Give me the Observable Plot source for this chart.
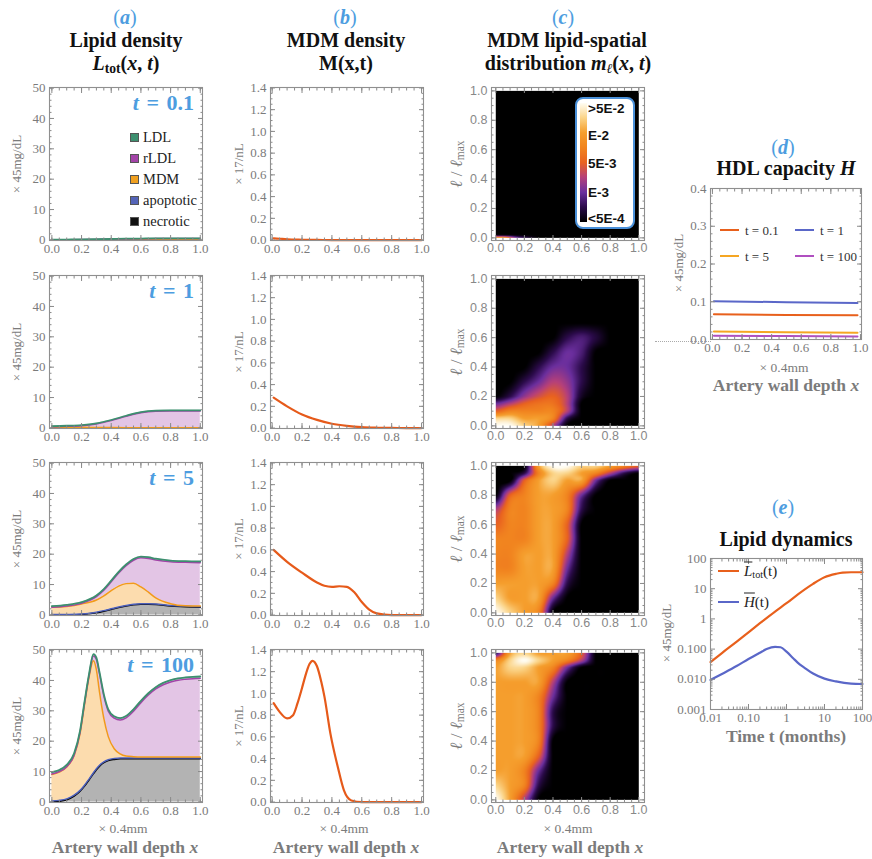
<!DOCTYPE html>
<html><head><meta charset="utf-8">
<script src="https://cdn.jsdelivr.net/npm/d3@7"></script>
<script src="https://cdn.jsdelivr.net/npm/@observablehq/plot@0.6"></script>
<style>
body{margin:0;background:#fff;}
#root{position:relative;width:872px;height:859px;overflow:hidden;font-family:"Liberation Serif",serif;background:#fff;}
.abs{position:absolute;white-space:nowrap;line-height:1;}
sub{font-size:0.68em;vertical-align:-0.25em;line-height:0;}
</style>
</head><body><div id="root"></div>
<script>
// ---------------- DATA ----------------
// (a) Lipid density: upper boundaries of stacked layers (×45 mg/dL)
const a01X = [0,0.1,0.2,0.3,0.4,0.5,0.6,0.7,0.8,0.9,1];
const a01Nec = [0,0,0,0,0,0,0,0,0,0,0];
const a01Apo = [0,0,0,0,0,0,0,0,0,0,0];
const a01Mdm = [0.05,0.04,0.03,0.03,0.03,0.03,0.03,0.03,0.03,0.03,0.03];
const a01Rldl = [0.08,0.08,0.12,0.17,0.25,0.33,0.38,0.42,0.43,0.43,0.43];
const a01Ldl = [0.12,0.12,0.16,0.22,0.3,0.4,0.45,0.5,0.5,0.5,0.5];

const a1X = [0,0.1,0.2,0.3,0.4,0.5,0.6,0.7,0.8,0.9,1];
const a1Nec = [0,0,0,0,0,0,0,0,0,0,0];
const a1Apo = [0.01,0.01,0.01,0.01,0.01,0.01,0.01,0.01,0.01,0.01,0.01];
const a1Mdm = [0.3,0.25,0.2,0.15,0.1,0.08,0.05,0.05,0.05,0.05,0.05];
const a1Rldl = [0.4,0.5,0.7,1.3,2.4,3.8,5.0,5.5,5.6,5.6,5.6];
const a1Ldl = [0.6,0.7,0.9,1.5,2.6,4.0,5.2,5.7,5.8,5.8,5.8];

const a5X = [0,0.1,0.2,0.3,0.35,0.4,0.45,0.5,0.55,0.6,0.65,0.7,0.8,0.9,1];
const a5Nec = [0,0.05,0.15,0.7,1.2,1.8,2.4,2.9,3.3,3.5,3.5,3.4,2.9,2.7,2.5];
const a5Apo = [0.1,0.15,0.3,0.9,1.4,2.0,2.6,3.1,3.5,3.7,3.7,3.6,3.1,2.9,2.7];
const a5Mdm = [2.5,2.8,3.6,4.9,6.3,8.0,9.5,10.3,10.4,9.2,7.5,5.6,3.7,3.0,2.9];
const a5Rldl = [2.5,2.9,3.8,6.0,8.1,10.9,13.8,16.2,18.0,18.8,18.6,18.1,17.5,17.3,17.2];
const a5Ldl = [2.9,3.3,4.2,6.4,8.5,11.3,14.2,16.6,18.4,19.2,19.0,18.5,17.9,17.7,17.6];

const a100X = [0,0.05,0.1,0.15,0.19,0.22,0.25,0.28,0.3,0.32,0.35,0.38,0.42,0.46,0.5,0.55,0.6,0.65,0.7,0.75,0.8,0.85,0.9,0.95,1];
const a100Nec = [0,0.2,0.7,1.9,3.5,5.2,7.2,9.3,10.6,11.7,12.9,13.6,14.0,14.2,14.2,14.2,14.2,14.2,14.2,14.2,14.2,14.2,14.2,14.2,14.2];
const a100Apo = [0.3,0.5,1.0,2.2,3.8,5.5,7.5,9.6,10.9,12.0,13.2,13.9,14.3,14.5,14.5,14.5,14.5,14.5,14.5,14.5,14.5,14.5,14.5,14.5,14.5];
const a100Mdm = [9.0,9.8,11.5,15.3,22.5,32,41,46.5,43.5,36.5,27.5,21.5,17.5,15.8,15.1,14.9,14.8,14.8,14.8,14.8,14.8,14.8,14.8,14.8,14.8];
const a100Rldl = [9.2,10.0,11.6,15.4,22.9,32.4,41.4,48.1,46.9,42.4,34.9,29.9,27.6,27.0,27.7,29.9,32.7,35.2,37.2,38.6,39.5,40.1,40.4,40.6,40.7];
const a100Ldl = [9.8,10.5,12.2,16,23.5,33,42,48.7,47.5,43,35.5,30.5,28.2,27.6,28.3,30.5,33.3,35.8,37.8,39.2,40.1,40.7,41.0,41.2,41.3];

// (b) MDM density M(x,t) (×17/nL)
const b01X = [0.01,0.05,0.1,0.2,0.3,0.4,0.5,0.6,0.7,0.8,0.9,1];
const b01M = [0.016,0.012,0.007,0.003,0.001,0,0,0,0,0,0,0];
const b1X = [0.01,0.1,0.2,0.3,0.4,0.5,0.6,0.7,0.8,0.9,1];
const b1M = [0.28,0.2,0.125,0.075,0.04,0.02,0.008,0.003,0.001,0,0];
const b5X = [0.01,0.1,0.2,0.3,0.35,0.4,0.45,0.5,0.55,0.6,0.65,0.7,0.8,0.9,1];
const b5M = [0.6,0.49,0.39,0.3,0.27,0.26,0.265,0.26,0.21,0.12,0.05,0.015,0,0,0];
const b100X = [0.01,0.05,0.1,0.14,0.17,0.2,0.22,0.25,0.27,0.3,0.33,0.35,0.39,0.44,0.48,0.53,0.6,0.7,0.8,0.9,1];
const b100M = [0.91,0.83,0.77,0.8,0.91,1.05,1.15,1.27,1.30,1.25,1.1,0.97,0.63,0.32,0.11,0.015,0,0,0,0,0];

// (c) MDM lipid-spatial distribution: colour level 0..8 (0:<5E-4, 2:E-3, 4:5E-3, 6:E-2, 8:>5E-2)
const levelColors = ["#000000","#2b0b4a","#6b2f9e","#b5407a","#e9621f","#f1841f","#f59e2d","#fbd488","#fffdf3"];
const levelTicks = ["<5E-4","E-3","5E-3","E-2",">5E-2"];
const heat01X = [0,0.05,0.1,0.15,0.2,0.3,1];
const heat01Y = [0,0.02,1];
const heat01Z = [
  [6,6,4,2,1,0,0],
  [0,0,0,0,0,0,0],
  [0,0,0,0,0,0,0]];
const heatX = [0,0.1,0.2,0.3,0.4,0.5,0.6,0.7,0.8,0.9,1];
const heat1Y = [0,0.05,0.1,0.15,0.2,0.3,0.4,0.5,0.6,0.7,1];
const heat1Z = [
  [8,8,7,6,3,0,0,0,0,0,0],
  [7,7,6,6,5,1,0,0,0,0,0],
  [4,5,5,5,5,3,0,0,0,0,0],
  [2,3,4,4.5,4.5,3,0,0,0,0,0],
  [0,1,2.5,3.5,4,3,0.5,0,0,0,0],
  [0,0,1,2,3,2.5,1,0,0,0,0],
  [0,0,0,1,2,2,1,0,0,0,0],
  [0,0,0,0,1,2,1.5,0,0,0,0],
  [0,0,0,0,0,1,1.5,0.8,0,0,0],
  [0,0,0,0,0,0,0,0,0,0,0],
  [0,0,0,0,0,0,0,0,0,0,0]];
const heat5Y = [0,0.1,0.2,0.3,0.4,0.5,0.6,0.7,0.8,0.9,0.95,1];
const heat5Z = [
  [8,7,6,5,0,0,0,0,0,0,0],
  [7,6,6,6,2,0,0,0,0,0,0],
  [6,6,6,6,5,1,0,0,0,0,0],
  [5,5,6,6,6,2,0,0,0,0,0],
  [5,5,6,6,6,3,0,0,0,0,0],
  [5,5,5,6,6,4,0,0,0,0,0],
  [4,5,5,6,6,4,0,0,0,0,0],
  [3,5,5,6,6,5,1,0,0,0,0],
  [0,4,5,6,6,5,2,0,0,0,0],
  [0,0,4,6,7,6,6,2,0,0,0],
  [0,0,1,5,7,7,6,5,3,1,0],
  [0,0,0,6,8,8,7,7,6,5,4]];
const heat100Y = [0,0.1,0.2,0.3,0.4,0.5,0.6,0.7,0.8,0.9,0.95,1];
const heat100Z = [
  [8,6,3,0,0,0,0,0,0,0,0],
  [7,6,5,1,0,0,0,0,0,0,0],
  [6,6,5,2,0,0,0,0,0,0,0],
  [6,6,6,4,0,0,0,0,0,0,0],
  [6,6,6,5,0,0,0,0,0,0,0],
  [6,6,6,5,1,0,0,0,0,0,0],
  [6,6,6,5,1,0,0,0,0,0,0],
  [6,6,6,5,2,0,0,0,0,0,0],
  [6,6,6,6,3,0,0,0,0,0,0],
  [6,7,7,6,5,2,0,0,0,0,0],
  [5,7,8,7,6,5,3,0,0,0,0],
  [1,6,7,6,6,6,4,0,0,0,0]];

// (d) HDL capacity H (×45 mg/dL)
const dX = [0.01,0.5,0.98];
const dH01 = [0.067,0.065,0.064];
const dH1 = [0.101,0.099,0.097];
const dH5 = [0.021,0.019,0.018];
const dH100 = [0.010,0.009,0.008];
const dLabels = ["t = 0.1","t = 1","t = 5","t = 100"];

// (e) Lipid dynamics
const eLT = [0.01,0.02,0.05,0.1,0.2,0.5,1,2,5,10,20,30,50,100];
const eL = [0.037,0.074,0.18,0.36,0.72,1.75,3.3,6.5,14.5,24,31,34,35,35];
const eHT = [0.01,0.02,0.05,0.1,0.2,0.3,0.5,0.7,1,1.5,2,3,5,10,20,50,100];
const eH = [0.0095,0.015,0.028,0.047,0.076,0.1,0.118,0.115,0.082,0.05,0.035,0.024,0.0155,0.0105,0.0085,0.0072,0.007];

const layerNames = ["LDL","rLDL","MDM","apoptotic","necrotic"];
const layerLine = {ldl:"#3d8f6f", rldl:"#a344a8", mdm:"#f29a1a", apo:"#4d5fb8", nec:"#000000"};
const layerFill = {ldl:"#bcdccd", rldl:"#e3c5e5", mdm:"#fcdcae", apo:"#c4cae8", nec:"#b3b3b3"};
const legendSquares = ["#3d8f6f","#a344a8","#f0a020","#5464b8","#111111"];

// ---------------- HELPERS ----------------
const root = document.getElementById("root");
const GRAY = "#7b7b7b", BLUE = "#4d9de0", TICK = "#8a8a8a";
const SERIF = "'Liberation Serif', serif", SANS = "'Liberation Sans', Arial, sans-serif";

function addText(html, x, y, css = "", anchor = "middle", rotate = 0) {
  const d = document.createElement("div");
  d.className = "abs";
  d.innerHTML = html;
  d.style.cssText += css;
  d.style.left = x + "px"; d.style.top = y + "px";
  const tx = anchor === "middle" ? "-50%" : anchor === "end" ? "-100%" : "0";
  d.style.transform = `translate(${tx}, -50%)` + (rotate ? ` rotate(${rotate}deg)` : "");
  root.append(d);
  return d;
}
function addBox(css) { const d = document.createElement("div"); d.style.cssText = "position:absolute;" + css; root.append(d); return d; }
const range = (a, b, s) => d3.range(a, b + s / 2, s).map(v => +v.toFixed(6));

// smooth (Catmull-Rom) interpolation between the grid values
function gridInterp(xs, ys, zs) {
  const idx = (arr, v) => {
    if (v <= arr[0]) return 0;
    for (let i = 0; i < arr.length - 1; i++) if (v <= arr[i + 1]) return i + (v - arr[i]) / (arr[i + 1] - arr[i]);
    return arr.length - 1;
  };
  const cr = (p0, p1, p2, p3, t) => 0.5 * (2 * p1 + (-p0 + p2) * t + (2 * p0 - 5 * p1 + 4 * p2 - p3) * t * t + (-p0 + 3 * p1 - 3 * p2 + p3) * t * t * t);
  const get = (j, i) => zs[Math.max(0, Math.min(ys.length - 1, j))][Math.max(0, Math.min(xs.length - 1, i))];
  return (x, y) => {
    const fx = idx(xs, x), fy = idx(ys, y);
    const i = Math.min(Math.floor(fx), xs.length - 2), j = Math.min(Math.floor(fy), ys.length - 2);
    const tx = fx - i, ty = fy - j;
    const r = [-1, 0, 1, 2].map(dj => cr(get(j + dj, i - 1), get(j + dj, i), get(j + dj, i + 1), get(j + dj, i + 2), tx));
    return Math.max(0, Math.min(8, cr(r[0], r[1], r[2], r[3], ty)));
  };
}

function frameMarks(o) {
  const m = [];
  const c = {label: null, stroke: TICK};
  for (const anchor of ["bottom", "top"]) {
    if (o.xMinor) m.push(Plot.axisX({...c, anchor, ticks: o.xMinor, tickSize: -2.5, fill: "none"}));
    m.push(Plot.axisX({...c, anchor, ticks: o.xMajor, tickSize: -5, fill: "none"}));
  }
  for (const anchor of ["left", "right"]) {
    if (o.yMinor) m.push(Plot.axisY({...c, anchor, ticks: o.yMinor, tickSize: -2.5, fill: "none"}));
    m.push(Plot.axisY({...c, anchor, ticks: o.yMajor, tickSize: -5, fill: "none"}));
  }
  m.push(Plot.axisX({label: null, anchor: "bottom", ticks: o.xMajor, tickSize: 0, tickPadding: 3, tickFormat: o.xFmt, fill: o.txt || GRAY}));
  m.push(Plot.axisY({label: null, anchor: "left", ticks: o.yMajor, tickSize: 0, tickPadding: 4, tickFormat: o.yFmt, fill: o.txt || GRAY}));
  m.push(Plot.frame({stroke: "#8f8f8f", strokeWidth: 1.1}));
  return m;
}

function place(o, marks, extra = {}) {
  const ml = o.ml ?? 40, mr = o.mr ?? 12, mt = 8, mb = 24;
  const p = Plot.plot({
    width: ml + o.fw + mr, height: mt + o.fh + mb,
    marginLeft: ml, marginRight: mr, marginTop: mt, marginBottom: mb,
    x: {type: o.xType || "linear", domain: o.xDomain},
    y: {type: o.yType || "linear", domain: o.yDomain},
    style: {fontFamily: o.font || SERIF, fontSize: (o.fontSize || 13) + "px", background: "transparent", overflow: "visible", color: GRAY},
    ...extra,
    marks: [...marks, ...frameMarks(o)]
  });
  p.style.position = "absolute";
  p.style.left = (o.left - ml) + "px";
  p.style.top = (o.top - mt) + "px";
  root.append(p);
}

const rowTops = [87, 275, 462, 649];
const FH = 153;
const fmt1 = d3.format(".1f");

// ---------------- (a) ----------------
const aSets = [
  [a01X, a01Nec, a01Apo, a01Mdm, a01Rldl, a01Ldl],
  [a1X, a1Nec, a1Apo, a1Mdm, a1Rldl, a1Ldl],
  [a5X, a5Nec, a5Apo, a5Mdm, a5Rldl, a5Ldl],
  [a100X, a100Nec, a100Apo, a100Mdm, a100Rldl, a100Ldl]];
aSets.forEach(([xs, nec, apo, mdm, rldl, ldl], r) => {
  const rows = xs.map((x, i) => ({x, zero: 0, nec: nec[i], apo: apo[i], mdm: mdm[i], rldl: rldl[i], ldl: ldl[i]}));
  const curve = "monotone-x";
  const keys = ["zero", "nec", "apo", "mdm", "rldl", "ldl"];
  const marks = [];
  for (let k = 1; k < keys.length; k++)
    marks.push(Plot.areaY(rows, {x: "x", y1: keys[k - 1], y2: keys[k], fill: layerFill[keys[k]], curve}));
  for (let k = 1; k < keys.length; k++)
    marks.push(Plot.lineY(rows, {x: "x", y: keys[k], stroke: layerLine[keys[k]], strokeWidth: k === 5 ? 1.8 : 1.5, curve}));
  place({left: 49, top: rowTops[r], fw: 153, fh: FH, xDomain: [-0.016, 1.015], yDomain: [-0.2, 50.2],
    xMajor: range(0, 1, 0.2), xMinor: range(0, 1, 0.05), yMajor: range(0, 50, 10), yMinor: range(0, 50, 2),
    xFmt: fmt1, yFmt: d3.format("d")}, marks);
  addText("× 45mg/dL", 16, rowTops[r] + FH / 2, `font-size:13px;color:${GRAY};font-family:${SERIF};`, "middle", -90);
});
const tLabels = ["0.1", "1", "5", "100"];
tLabels.forEach((t, r) => addText(`<i>t</i> = ${t}`, 194, rowTops[r] + 16,
  `font-size:22px;font-weight:bold;color:${BLUE};font-family:${SERIF};word-spacing:2px;`, "end"));
// legend (a)
layerNames.forEach((n, i) => {
  const y = 137 + i * 21;
  addBox(`left:130px;top:${y - 4}px;width:7px;height:7px;background:${legendSquares[i]};border:0.5px solid #555;`);
  addText(n, 143, y, `font-size:14.5px;color:#222;font-family:${SERIF};`, "start");
});

// ---------------- (b) ----------------
const bSets = [[b01X, b01M], [b1X, b1M], [b5X, b5M], [b100X, b100M]];
bSets.forEach(([xs, ms], r) => {
  const rows = xs.map((x, i) => ({x, m: ms[i]}));
  place({left: 270, top: rowTops[r], fw: 153, fh: FH, xDomain: [-0.011, 1.013], yDomain: [-0.004, 1.404],
    xMajor: range(0, 1, 0.2), xMinor: range(0, 1, 0.05), yMajor: range(0, 1.4, 0.2), yMinor: range(0, 1.4, 0.05),
    xFmt: fmt1, yFmt: fmt1},
    [Plot.lineY(rows, {x: "x", y: "m", stroke: "#e65a1a", strokeWidth: 2.2, curve: "monotone-x"})]);
  addText("× 17/nL", 238, rowTops[r] + FH / 2, `font-size:13px;color:${GRAY};font-family:${SERIF};`, "middle", -90);
});

// ---------------- (c) ----------------
const cSets = [[heat01X, heat01Y, heat01Z], [heatX, heat1Y, heat1Z], [heatX, heat5Y, heat5Z], [heatX, heat100Y, heat100Z]];
cSets.forEach(([xs, ys, zs], r) => {
  const f = gridInterp(xs, ys, zs);
  place({left: 491, top: rowTops[r], fw: 153, fh: FH, xDomain: [-0.03, 1.04], yDomain: [-0.018, 1.023],
    xMajor: range(0, 1, 0.2), xMinor: range(0, 1, 0.05), yMajor: range(0, 1, 0.2), yMinor: range(0, 1, 0.05),
    xFmt: fmt1, yFmt: fmt1, font: SANS, fontSize: 12.5, txt: "#888"},
    [Plot.raster({fill: f, x1: 0, y1: 0, x2: 1, y2: 1, pixelSize: 1})],
    {color: {type: "linear", domain: d3.range(levelColors.length), range: levelColors, clamp: true}});
  addText("<i>ℓ</i> / <i>ℓ</i><sub style='font-style:normal'>max</sub>", 456, rowTops[r] + FH / 2,
    `font-size:17px;color:${GRAY};font-family:${SERIF};`, "middle", -90);
});
// colour bar legend
addBox(`left:575px;top:97px;width:60px;height:132px;box-sizing:border-box;border:2.5px solid #4a90d9;border-radius:8px;background:#fff;`);
addBox(`left:580px;top:103px;width:7px;height:119px;background:linear-gradient(to top, ${levelColors.map((c, i) => `${c} ${(i / (levelColors.length - 1) * 100).toFixed(1)}%`).join(",")});`);
const barY = [219, 193, 164, 136, 109];
levelTicks.forEach((t, i) => addText(t, 588, barY[i], `font-size:13.5px;font-weight:bold;color:#111;font-family:${SANS};`, "start"));

// ---------------- (d) ----------------
const dSeries = [dH01, dH1, dH5, dH100];
const dColors = ["#e8601c", "#5a67c8", "#f5a623", "#b04fc0"];
const dRows = [];
dSeries.forEach((s, k) => dX.forEach((x, i) => dRows.push({x, h: s[i], k: dLabels[k]})));
place({left: 710, top: 188, fw: 151, fh: 151, mr: 10, xDomain: [-0.013, 1.007], yDomain: [0, 0.4],
  xMajor: range(0, 1, 0.2), xMinor: range(0, 1, 0.05), yMajor: range(0, 0.4, 0.1), yMinor: range(0, 0.4, 0.02),
  xFmt: fmt1, yFmt: fmt1},
  [Plot.lineY(dRows, {x: "x", y: "h", z: "k", stroke: d => dColors[dLabels.indexOf(d.k)], strokeWidth: 2})]);
[[720, 230, 0], [795, 230, 1], [720, 256, 2], [795, 256, 3]].forEach(([x, y, k]) => {
  addBox(`left:${x}px;top:${y - 1}px;width:19px;height:2px;background:${dColors[k]};`);
  addText(dLabels[k], x + 25, y, `font-size:13px;color:#333;font-family:${SERIF};`, "start");
});
addText("× 45mg/dL", 678, 263, `font-size:13px;color:${GRAY};font-family:${SERIF};`, "middle", -90);
addBox(`left:655px;top:341px;width:56px;height:0;border-top:1px dotted #aaa;`);

// ---------------- (e) ----------------
const eRows = eLT.map((t, i) => ({t, v: eL[i]}));
const hRows = eHT.map((t, i) => ({t, v: eH[i]}));
const decades = [0.001, 0.01, 0.1, 1, 10];
place({left: 710, top: 558, fw: 152, fh: 151, ml: 46, mr: 10, xType: "log", yType: "log",
  xDomain: [0.01, 100], yDomain: [0.001, 100],
  xMajor: [0.01, 0.1, 1, 10, 100], xMinor: decades.slice(1).flatMap(d => d3.range(2, 10).map(m => m * d)),
  yMajor: [0.001, 0.01, 0.1, 1, 10, 100], yMinor: decades.flatMap(d => d3.range(2, 10).map(m => m * d)),
  xFmt: d => ({0.01: "0.01", 0.1: "0.10", 1: "1", 10: "10", 100: "100"})[d],
  yFmt: d => ({0.001: "0.001", 0.01: "0.010", 0.1: "0.100", 1: "1", 10: "10", 100: "100"})[d]},
  [Plot.lineY(eRows, {x: "t", y: "v", stroke: "#e8601c", strokeWidth: 2.2, curve: "monotone-x"}),
   Plot.lineY(hRows, {x: "t", y: "v", stroke: "#5a67c8", strokeWidth: 2.2, curve: "monotone-x"})]);
addBox(`left:718px;top:570px;width:21px;height:2.2px;background:#e8601c;`);
addText(`<span style="text-decoration:overline"><i>L</i></span><sub>tot</sub>(t)`, 744, 571, `font-size:15px;color:#222;font-family:${SERIF};`, "start");
addBox(`left:718px;top:601px;width:21px;height:2.2px;background:#5a67c8;`);
addText(`<span style="text-decoration:overline"><i>H</i></span>(t)`, 744, 602, `font-size:15px;color:#222;font-family:${SERIF};`, "start");
addText("× 45mg/dL", 666, 633, `font-size:13px;color:${GRAY};font-family:${SERIF};`, "middle", -90);

// ---------------- TITLES ----------------
const tcss = `font-size:20px;font-weight:bold;color:#111;font-family:${SERIF};`;
const pcss = `font-size:20px;color:${BLUE};font-family:${SERIF};`;
addText(`(<b><i>a</i></b>)`, 125, 17, pcss);
addText("Lipid density", 126, 40, tcss);
addText(`<i>L</i><sub>tot</sub>(<i>x</i>, <i>t</i>)`, 126, 63, tcss);
addText(`(<b><i>b</i></b>)`, 345, 17, pcss);
addText("MDM density", 346, 40, tcss);
addText("M(x,t)", 346, 63, tcss);
addText(`(<b><i>c</i></b>)`, 563, 17, pcss);
addText("MDM lipid-spatial", 567, 40, tcss);
addText(`distribution <i>m</i><sub><i>ℓ</i></sub>(<i>x</i>, <i>t</i>)`, 568, 63, tcss);
addText(`(<b><i>d</i></b>)`, 783, 147, pcss);
addText(`HDL capacity <i>H</i>`, 786, 168, tcss);
addText(`(<b><i>e</i></b>)`, 783, 507, pcss);
addText("Lipid dynamics", 786, 539, tcss);

const xcss = `font-size:13.5px;color:${GRAY};font-family:${SERIF};`;
const bcss = `font-size:17.5px;font-weight:bold;color:${GRAY};font-family:${SERIF};`;
[[123, 829, 848], [344, 829, 848], [568, 829, 848], [784, 368, 386]].forEach(([x, y1, y2]) => {
  addText("× 0.4mm", x, y1, xcss);
  addText(`Artery wall depth <i>x</i>`, x + 2, y2, bcss);
});
addText("Time t (months)", 786, 737, bcss);
</script>
</body></html>
